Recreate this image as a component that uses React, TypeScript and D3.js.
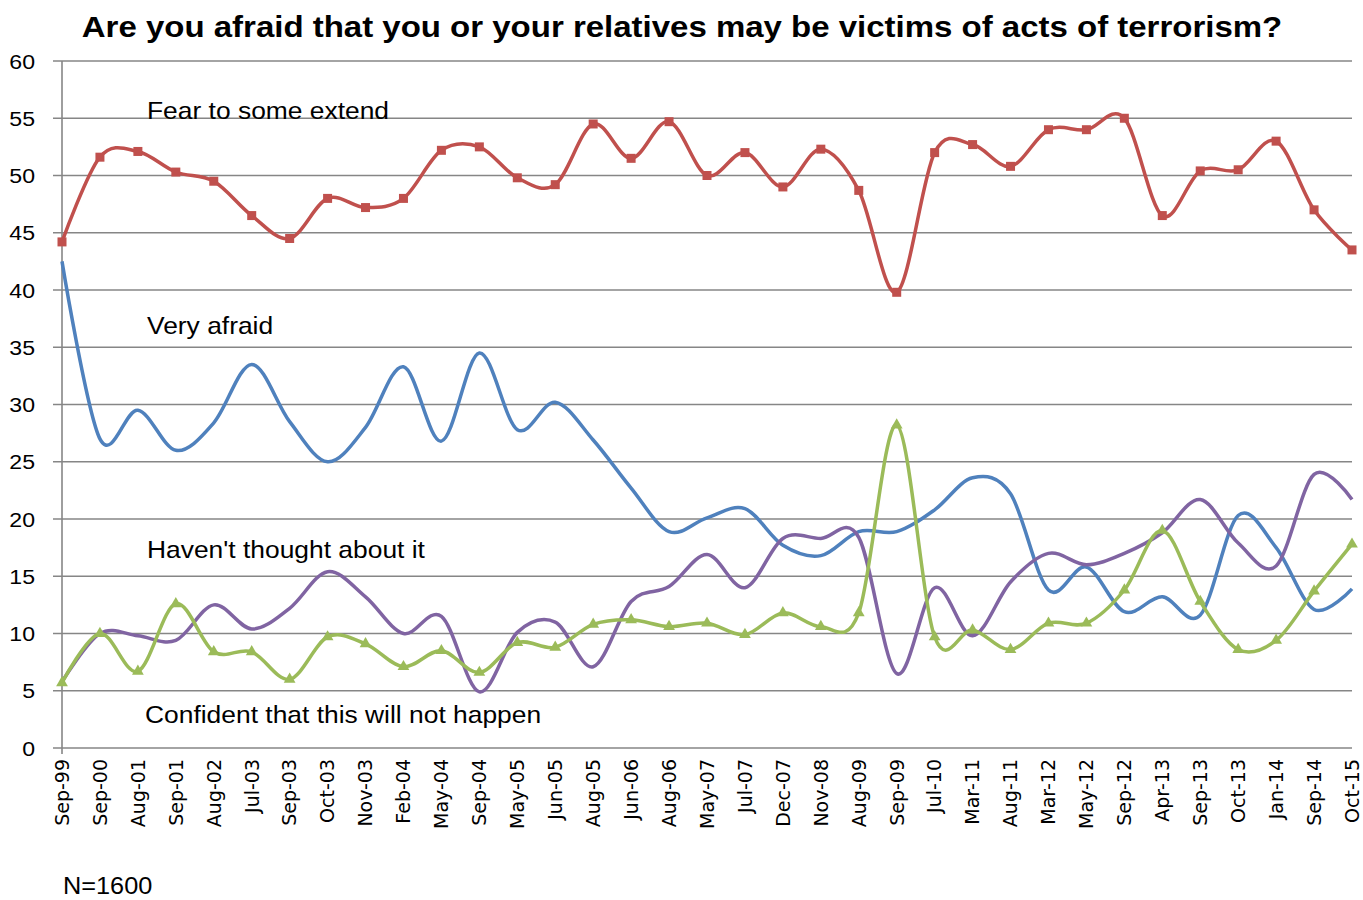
import React from "react";
import * as d3 from "d3";

const categories = ["Sep-99","Sep-00","Aug-01","Sep-01","Aug-02","Jul-03","Sep-03","Oct-03","Nov-03","Feb-04","May-04","Sep-04","May-05","Jun-05","Aug-05","Jun-06","Aug-06","May-07","Jul-07","Dec-07","Nov-08","Aug-09","Sep-09","Jul-10","Mar-11","Aug-11","Mar-12","May-12","Sep-12","Apr-13","Sep-13","Oct-13","Jan-14","Sep-14","Oct-15"];

const fearSome = [44.2,51.6,52.1,50.3,49.5,46.5,44.5,48.0,47.2,48.0,52.2,52.5,49.8,49.2,54.5,51.5,54.7,50.0,52.0,49.0,52.3,48.7,39.8,52.0,52.7,50.8,54.0,54.0,55.0,46.5,50.4,50.5,53.0,47.0,43.5];
const veryAfraid = [42.5,27.0,29.5,26.0,28.4,33.5,28.5,25.0,28.0,33.3,26.8,34.5,27.8,30.2,26.9,22.7,18.9,20.1,20.9,17.7,16.8,18.9,18.9,20.8,23.6,22.2,13.8,15.8,11.9,13.2,11.6,20.3,17.5,12.1,13.9];
const haventThought = [5.8,10.0,9.8,9.4,12.5,10.4,12.2,15.4,13.2,10.0,11.5,4.9,10.1,11.0,7.1,12.8,14.1,16.9,14.0,18.3,18.3,18.4,6.5,14.0,9.8,14.5,17.0,16.0,17.0,18.8,21.7,17.9,15.9,23.9,21.7];
const confident = [5.7,10.0,6.7,12.6,8.4,8.4,6.0,9.7,9.1,7.1,8.5,6.6,9.2,8.8,10.8,11.2,10.6,10.9,9.9,11.8,10.6,11.8,28.2,9.7,10.3,8.6,10.9,10.9,13.8,19.0,12.8,8.6,9.4,13.7,17.8];
const yTicks = [0,5,10,15,20,25,30,35,40,45,50,55,60];

const W = 1363, H = 900;
const left = 62, right = 1352, top = 61, bottom = 748;
const SANS = "Liberation Sans, Arial, sans-serif";

export default function App() {
  const x = d3.scalePoint<string>().domain(categories).range([left, right]);
  const y = d3.scaleLinear().domain([0, 60]).range([bottom, top]);
  const line = d3.line<number>()
    .x((_, i) => x(categories[i]) as number)
    .y((d) => y(d))
    .curve(d3.curveCardinal.tension(0));

  const series = [
    { data: fearSome, color: "#C0504D", marker: "square" },
    { data: veryAfraid, color: "#4F81BD", marker: "none" },
    { data: haventThought, color: "#8064A2", marker: "none" },
    { data: confident, color: "#9BBB59", marker: "triangle" },
  ];
  const tri = d3.symbol().type(d3.symbolTriangle).size(60)();

  const label = (tx: number, ty: number, s: string) => (
    <text transform={`translate(${tx},${ty}) scale(1.1,1)`} fontFamily={SANS} fontSize={24}>{s}</text>
  );

  return (
    <svg width={W} height={H} style={{ position: "absolute", left: 0, top: 0, background: "#fff" }}>
      <rect width={W} height={H} fill="#fff" />
      <text transform={`translate(682,37) scale(1.1,1)`} textAnchor="middle" fontFamily={SANS} fontWeight="bold" fontSize={30}>
        Are you afraid that you or your relatives may be victims of acts of terrorism?
      </text>
      {yTicks.map((t) => (
        <g key={t}>
          <line x1={53} x2={right} y1={y(t)} y2={y(t)} stroke="#868686" strokeWidth={1.6} />
          <text transform={`translate(35,${y(t)}) scale(1.1,1)`} dy="0.36em" textAnchor="end" fontFamily={SANS} fontSize={21}>{t}</text>
        </g>
      ))}
      <line x1={left} x2={left} y1={top} y2={bottom + 6} stroke="#868686" strokeWidth={1.6} />
      {categories.map((c) => (
        <text key={c} transform={`translate(${x(c)},${759}) rotate(-90)`} dy="0.36em" textAnchor="end" fontFamily="DejaVu Sans, sans-serif" fontSize={19}>{c}</text>
      ))}
      {series.map((s, si) => (
        <g key={si}>
          <path d={line(s.data) as string} fill="none" stroke={s.color} strokeWidth={3.5} />
          {s.marker === "square" && s.data.map((v, i) => (
            <rect key={i} x={(x(categories[i]) as number) - 4.5} y={y(v) - 4.5} width={9} height={9} fill={s.color} />
          ))}
          {s.marker === "triangle" && s.data.map((v, i) => (
            <path key={i} d={tri as string} transform={`translate(${x(categories[i])},${y(v)})`} fill={s.color} />
          ))}
        </g>
      ))}
      {label(147, 119, "Fear to some extend")}
      {label(147, 334, "Very afraid")}
      {label(147, 558, "Haven't thought about it")}
      {label(145, 723, "Confident that this will not happen")}
      <text transform={`translate(63,894) scale(1.1,1)`} fontFamily={SANS} fontSize={23}>N=1600</text>
    </svg>
  );
}
